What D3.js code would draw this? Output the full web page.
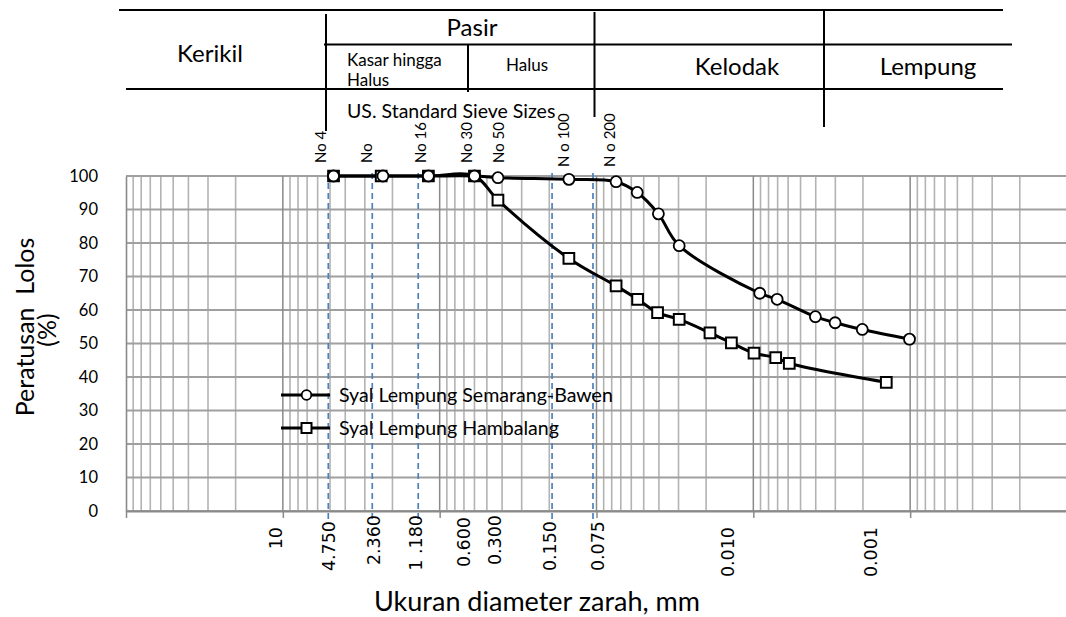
<!DOCTYPE html>
<html>
<head>
<meta charset="utf-8">
<script src="https://cdn.jsdelivr.net/npm/d3@7"></script>
<style>
  body { margin: 0; background: #fff; }
  svg { display: block; }
  text { white-space: pre; }
</style>
</head>
<body>
<svg id="chart" width="1066" height="617"></svg>
<script>
// Particle-size distribution: grain diameter (mm) against percent passing
const bawenSize = [4.75, 2.3, 1.18, 0.6, 0.425, 0.15, 0.075, 0.055, 0.0403, 0.0297, 0.0091, 0.00705, 0.00402, 0.00301, 0.00202, 0.00101];
const bawenPass = [100, 100, 100, 100, 99.5, 99.0, 98.3, 95.1, 88.7, 79.2, 65.0, 63.2, 58.0, 56.2, 54.2, 51.3];
const hambalangSize = [4.75, 2.36, 1.18, 0.6, 0.425, 0.15, 0.075, 0.0547, 0.0408, 0.0297, 0.0189, 0.0138, 0.0099, 0.0072, 0.0059, 0.00142];
const hambalangPass = [100, 100, 100, 100, 92.8, 75.4, 67.2, 63.2, 59.2, 57.2, 53.2, 50.2, 47.1, 45.8, 44.1, 38.4];
const seriesNames = ["Syal Lempung Semarang-Bawen", "Syal Lempung Hambalang"];

const yTicks = [0, 10, 20, 30, 40, 50, 60, 70, 80, 90, 100];
const xTickLabels = ["10", "4.750", "2.360", "1 .180", "0.600", "0.300", "0.150", "0.075", "0.010", "0.001"];
const sieveLabels = ["No 4", "No", "No 16", "No 30", "No 50", "N o 100", "N o 200"];
const classNames = ["Kerikil", "Pasir", "Kasar hingga", "Halus", "Halus", "Kelodak", "Lempung"];
const sieveHeading = "US. Standard Sieve Sizes";
const yTitle = ["Peratusan  Lolos", "(%)"];
const xTitle = "Ukuran diameter zarah, mm";

// ---- layout (diameters where a label sits along the log axis) ----
const guideAt = [5.13, 2.69, 1.37, 0.192, 0.1053];          // dashed sieve guides
const tickLabelAt = [11.16, 5.13, 2.65, 1.43, 0.698, 0.443, 0.198, 0.0978, 0.01453, 0.001786];
const tickLabelTop = [527, 521, 515, 515, 517, 515, 521, 521, 527, 527];
const sieveLabelAt = [5.77, 2.91, 1.33, 0.671, 0.422, 0.1627, 0.082];
const sieveLabelBottom = [163, 163, 163, 163, 163, 167, 167];

const FONT = "Lato, 'Open Sans', sans-serif";
const svg = d3.select("#chart");

const x = d3.scaleLog().domain([100, 0.0001]).range([126, 1067]);
const y = d3.scaleLinear().domain([0, 100]).range([511, 176]);

// ---- grid ----
const minor = [];
for (let k = -4; k <= 1; k++) for (let m = 2; m <= 9; m++) minor.push(m * Math.pow(10, k));
const major = [10, 1, 0.1, 0.01, 0.001];

const grid = svg.append("g");
grid.selectAll("line.minor").data(minor).join("line")
  .attr("x1", d => x(d)).attr("x2", d => x(d))
  .attr("y1", y(100)).attr("y2", y(0))
  .attr("stroke", "#b3b3b3").attr("stroke-width", 1.6);
grid.selectAll("line.h").data(yTicks).join("line")
  .attr("x1", x(100)).attr("x2", 1066)
  .attr("y1", d => y(d)).attr("y2", d => y(d))
  .attr("stroke", "#a0a0a0").attr("stroke-width", 1.8);
grid.selectAll("line.major").data(major).join("line")
  .attr("x1", d => x(d)).attr("x2", d => x(d))
  .attr("y1", y(100)).attr("y2", y(0))
  .attr("stroke", "#8a8a8a").attr("stroke-width", 1.5);

// ---- dashed sieve guides ----
svg.append("g").selectAll("line").data(guideAt).join("line")
  .attr("x1", d => x(d)).attr("x2", d => x(d))
  .attr("y1", 173).attr("y2", 520)
  .attr("stroke", "#4f81bd").attr("stroke-width", 1.7)
  .attr("stroke-dasharray", "6,4");

// ---- axes ----
const xAxis = svg.append("g").attr("transform", `translate(0,${y(0)})`)
  .call(d3.axisBottom(x).tickValues([100, 10, 1, 0.1, 0.01, 0.001]).tickFormat("").tickSize(7).tickSizeOuter(0));
xAxis.select(".domain").attr("stroke", "#8a8a8a").attr("stroke-width", 2);
xAxis.selectAll(".tick line").attr("stroke", "#8a8a8a").attr("stroke-width", 1.5);

const yAxis = svg.append("g").attr("transform", `translate(${x(100)},0)`)
  .call(d3.axisLeft(y).tickValues(yTicks).tickSize(0).tickPadding(28).tickSizeOuter(0));
yAxis.select(".domain").attr("stroke", "#8a8a8a").attr("stroke-width", 1.6);
yAxis.selectAll(".tick text")
  .attr("font-family", FONT).attr("font-size", 16.5).attr("fill", "#000");

// x tick labels (rotated)
svg.append("g").selectAll("text").data(xTickLabels).join("text")
  .attr("transform", (d, i) => `translate(${x(tickLabelAt[i])},${tickLabelTop[i]}) rotate(-90)`)
  .attr("text-anchor", "end").attr("dy", "0.36em")
  .attr("font-family", "'DejaVu Sans', Verdana, sans-serif").attr("font-size", 17.5)
  .text(d => d);

// sieve number labels (rotated)
svg.append("g").selectAll("text").data(sieveLabels).join("text")
  .attr("transform", (d, i) => `translate(${x(sieveLabelAt[i])},${sieveLabelBottom[i]}) rotate(-90)`)
  .attr("text-anchor", "start").attr("dy", "0.36em")
  .attr("font-family", FONT).attr("font-size", 15)
  .text(d => d);

// ---- series ----
const bawen = bawenSize.map((d, i) => ({ d, p: bawenPass[i] }));
const hambalang = hambalangSize.map((d, i) => ({ d, p: hambalangPass[i] }));
const line = d3.line().x(v => x(v.d)).y(v => y(v.p)).curve(d3.curveCatmullRom.alpha(0.5));

[bawen, hambalang].forEach(s => {
  svg.append("path").datum(s).attr("d", line)
    .attr("fill", "none").attr("stroke", "#000").attr("stroke-width", 3)
    .attr("stroke-linejoin", "round");
});

const square = d3.symbol().type(d3.symbolSquare).size(115);
svg.append("g").selectAll("path").data(hambalang).join("path")
  .attr("transform", v => `translate(${x(v.d)},${y(v.p)})`)
  .attr("d", square).attr("fill", "#fff").attr("stroke", "#000").attr("stroke-width", 2);
svg.append("g").selectAll("circle").data(bawen).join("circle")
  .attr("cx", v => x(v.d)).attr("cy", v => y(v.p)).attr("r", 5.5)
  .attr("fill", "#fff").attr("stroke", "#000").attr("stroke-width", 1.8);

// ---- legend ----
const legend = svg.append("g");
seriesNames.forEach((name, i) => {
  const ly = 395 + i * 33;
  legend.append("line").attr("x1", 281).attr("x2", 330).attr("y1", ly).attr("y2", ly)
    .attr("stroke", "#000").attr("stroke-width", 3);
  if (i === 0) {
    legend.append("circle").attr("cx", 306.5).attr("cy", ly).attr("r", 4.8)
      .attr("fill", "#fff").attr("stroke", "#000").attr("stroke-width", 1.8);
  } else {
    legend.append("path").attr("transform", `translate(306.5,${ly})`)
      .attr("d", d3.symbol().type(d3.symbolSquare).size(100))
      .attr("fill", "#fff").attr("stroke", "#000").attr("stroke-width", 2);
  }
  legend.append("text").attr("x", 339).attr("y", ly).attr("dy", "0.35em")
    .attr("font-family", FONT).attr("font-size", 19.6).text(name);
});

// ---- axis titles ----
svg.append("text").attr("transform", "translate(34,327) rotate(-90)")
  .attr("text-anchor", "middle").attr("font-family", FONT).attr("font-size", 25).text(yTitle[0]);
svg.append("text").attr("transform", "translate(56,330) rotate(-90)")
  .attr("text-anchor", "middle").attr("font-family", FONT).attr("font-size", 25).text(yTitle[1]);
svg.append("text").attr("x", 537).attr("y", 611)
  .attr("text-anchor", "middle").attr("font-family", FONT).attr("font-size", 27).text(xTitle);

// ---- soil classification header ----
const hdr = svg.append("g").attr("stroke", "#000").attr("stroke-width", 2);
[[119, 10, 1003, 10], [324, 44.5, 1012, 44.5], [126, 89, 1003, 89],
 [326, 14, 326, 131], [468, 45, 468, 92], [594.5, 12, 594.5, 117], [824, 10, 824, 127]]
  .forEach(([x1, y1, x2, y2]) => hdr.append("line").attr("x1", x1).attr("y1", y1).attr("x2", x2).attr("y2", y2));

const htext = (t, tx, ty, size, anchor) => svg.append("text").attr("x", tx).attr("y", ty)
  .attr("text-anchor", anchor).attr("font-family", FONT).attr("font-size", size).text(t);
htext(classNames[0], 210, 62, 24, "middle");
htext(classNames[1], 472, 36, 24, "middle");
htext(classNames[2], 347, 65.5, 17, "start");
htext(classNames[3], 347, 86, 17, "start");
htext(classNames[4], 527, 71, 17, "middle");
htext(classNames[5], 737, 75, 24, "middle");
htext(classNames[6], 928, 75, 24, "middle");
htext(sieveHeading, 347, 118, 19.5, "start");
</script>
</body>
</html>
